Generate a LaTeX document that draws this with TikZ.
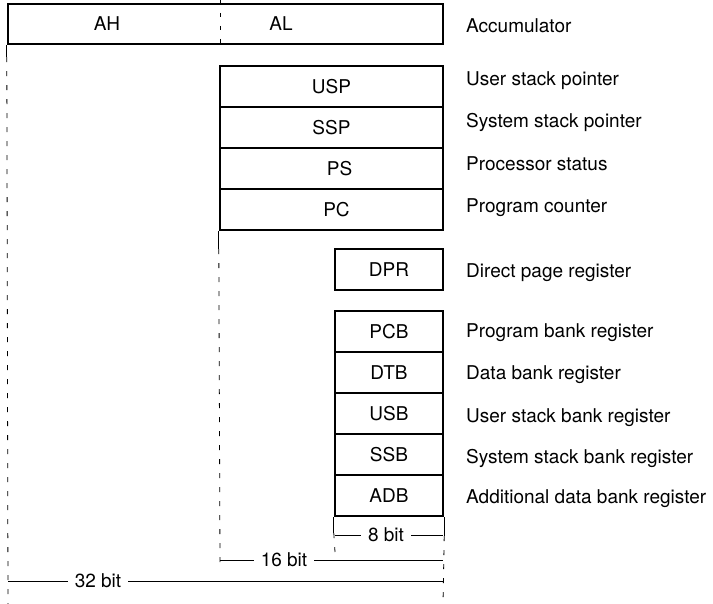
\documentclass[tikz,border=0pt]{standalone}
\usepackage{fontspec}
\setmainfont{TeX Gyre Heros}
\begin{document}
\begin{tikzpicture}[x=1pt, y=-1pt,
  every node/.style={font=\fontsize{19}{23}\selectfont},
  regbox/.style={draw, line width=2.4pt, rectangle, inner sep=0pt, minimum height=41pt},
  widebox/.style={regbox, minimum width=223pt},
  bankbox/.style={regbox, minimum width=108pt},
  desc/.style={anchor=base west, inner sep=0pt},
  guide/.style={line width=0.8pt, dash pattern=on 5pt off 9pt},
  divider/.style={line width=0.8pt, dash pattern=on 4.5pt off 8.5pt},
  dimline/.style={line width=0.8pt},
  dimtext/.style={fill=white, inner xsep=7pt, inner ysep=1pt}]
\useasboundingbox (0,0) rectangle (713,604);

% accumulator
\node[regbox, minimum width=435pt, minimum height=40pt] (acc) at (225.5,24) {};
\node (ah) at (107,24) {AH};
\node (al) at (281,24) {AL};
\coordinate (divtop) at (220,0);
\draw[divider] (divtop) -- (divtop |- acc.south);

% 16-bit registers
\node[widebox] (usp) at (331.5,86.5) {USP};
\node[widebox] (ssp) at (331.5,127.5) {SSP};
\node[widebox] (ps)  at (331.5,168.5) {\hspace{16pt}PS};
\node[widebox] (pc)  at (331.5,209.5) {\hspace{10pt}PC};

% 8-bit registers
\node[bankbox] (dpr) at (389,269.5) {DPR};
\node[bankbox] (pcb) at (389,331.5) {PCB};
\node[bankbox] (dtb) at (389,372.5) {DTB};
\node[bankbox] (usb) at (389,413.5) {USB};
\node[bankbox] (ssb) at (389,454.5) {SSB};
\node[bankbox] (adb) at (389,495.5) {ADB};

% descriptions
\node[desc] (tacc) at (466,33)  {Accumulator};
\node[desc] (tusp) at (466,86)  {User stack pointer};
\node[desc] (tssp) at (466,128) {System stack pointer};
\node[desc] (tps)  at (466,171) {Processor status};
\node[desc] (tpc)  at (466,213) {Program counter};
\node[desc] (tdpr) at (466,278) {Direct page register};
\node[desc] (tpcb) at (466,338) {Program bank register};
\node[desc] (tdtb) at (466,380) {Data bank register};
\node[desc] (tusb) at (466,422) {User stack bank register};
\node[desc] (tssb) at (466,463) {System stack bank register};
\node[desc] (tadb) at (466,503) {Additional data bank register};

% width guides
\coordinate (g32) at (8,604);
\coordinate (g16) at (220,563);
\coordinate (g8)  at (335,552);
\coordinate (gr)  at (443,604);
\draw[dimline] (acc.south west) -- ++(0,12) coordinate (g32s);
\draw[guide] (g32s) -- (g32);
\draw[dimline] (pc.south west) -- ++(0,18) coordinate (g16s);
\draw[guide] (g16s) -- (g16);
\draw[dimline] (adb.south west) -- ++(0,16) coordinate (g8s);
\draw[guide] (g8s) -- (g8);
\draw[dimline] (adb.south east) -- ++(0,19) coordinate (grs);
\draw[guide] (grs) -- (gr);

% width dimensions
\coordinate (d8a)  at (335,535);
\coordinate (d8b)  at (443,535);
\coordinate (d16a) at (220,560);
\coordinate (d16b) at (443,560);
\coordinate (d32a) at (8,581);
\coordinate (d32b) at (443,581);
\draw[dimline] (d8a) -- (d8b);
\draw[dimline] (d16a) -- (d16b);
\draw[dimline] (d32a) -- (d32b);
\node[dimtext] (t8)  at (386,535) {8 bit};
\node[dimtext] (t16) at (284,560) {16 bit};
\node[dimtext] (t32) at (98,581)  {32 bit};
\end{tikzpicture}
\end{document}
